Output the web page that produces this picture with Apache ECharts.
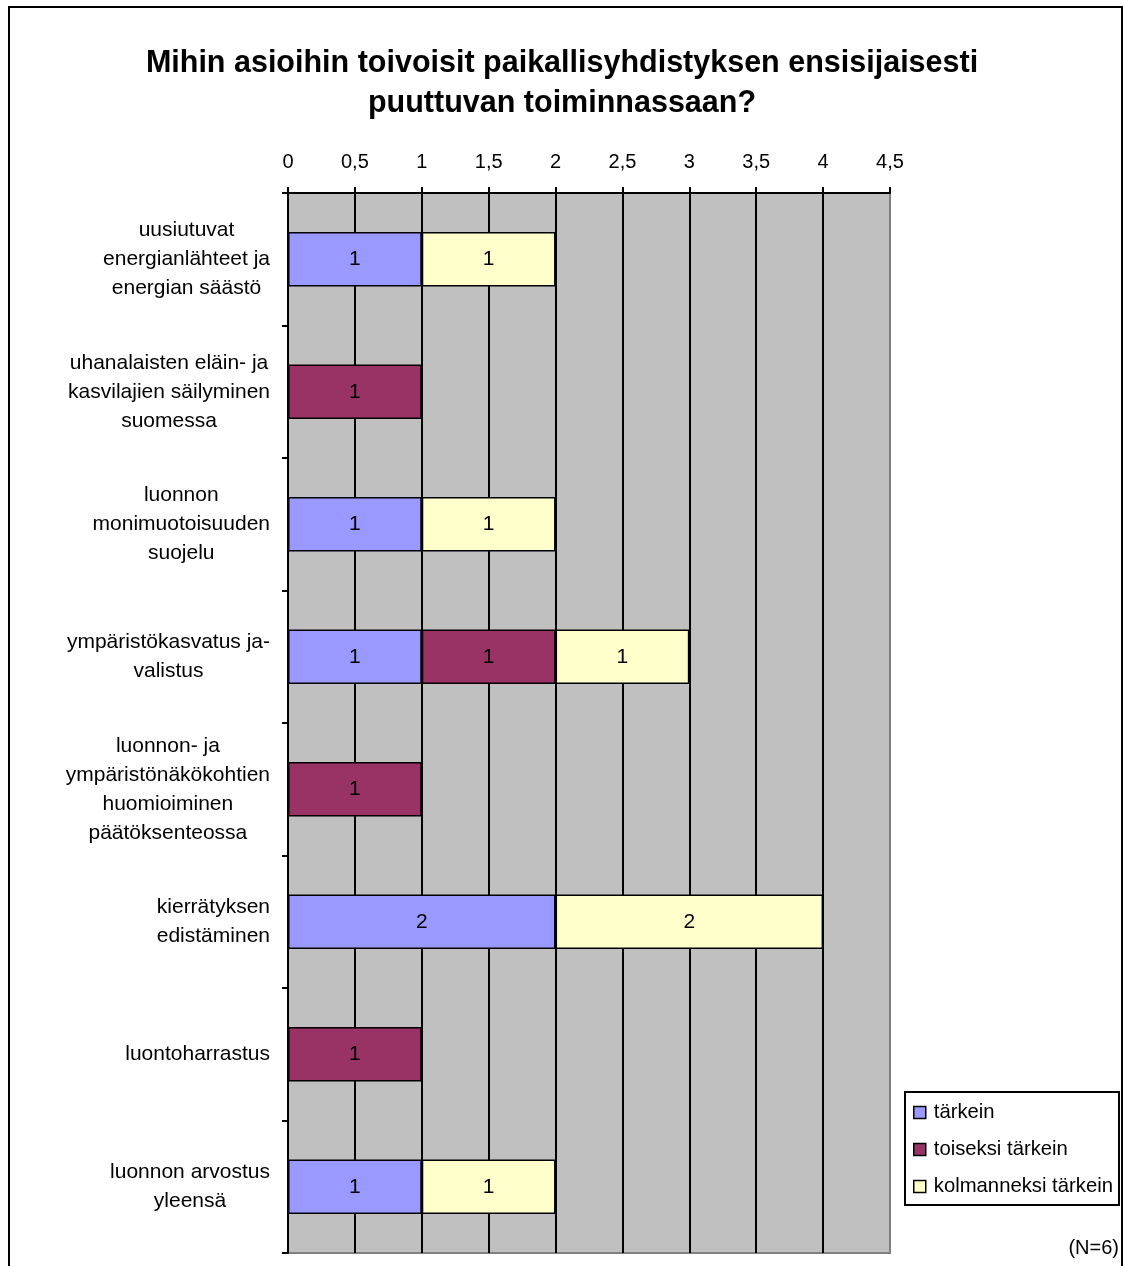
<!DOCTYPE html>
<html>
<head>
<meta charset="utf-8">
<style>
html,body{margin:0;padding:0;background:#fff;}
#chart{width:1124px;height:1266px;}
</style>
<script src="https://cdn.jsdelivr.net/npm/echarts@6/dist/echarts.min.js"></script>
</head>
<body>
<div id="chart"></div>
<script>
const titleText = 'Mihin asioihin toivoisit paikallisyhdistyksen ensisijaisesti\npuuttuvan toiminnassaan?';
const noteText = '(N=6)';
const categories = [
  'uusiutuvat\nenergianlähteet ja\nenergian säästö',
  'uhanalaisten eläin- ja\nkasvilajien säilyminen\nsuomessa',
  'luonnon\nmonimuotoisuuden\nsuojelu',
  'ympäristökasvatus ja-\nvalistus',
  'luonnon- ja\nympäristönäkökohtien\nhuomioiminen\npäätöksenteossa',
  'kierrätyksen\nedistäminen',
  'luontoharrastus',
  'luonnon arvostus\nyleensä'
];
const seriesNames = ['tärkein', 'toiseksi tärkein', 'kolmanneksi tärkein'];
const tarkein = [1, null, 1, 1, null, 2, null, 1];
const toiseksi = [null, 1, null, 1, 1, null, 1, null];
const kolmanneksi = [1, null, 1, 1, null, 2, null, 1];
const colors = ['#9999FF', '#993366', '#FFFFCC'];
const axisMin = 0, axisMax = 4.5, axisStep = 0.5;

const FONT = '"Liberation Sans", Arial, sans-serif';
const chart = echarts.init(document.getElementById('chart'));

function mkSeries(name, data, color) {
  return {
    name: name, type: 'bar', stack: 'all', data: data,
    barWidth: '41%',
    itemStyle: { color: color, borderColor: '#000', borderWidth: 1.5 },
    label: { show: true, position: 'inside', color: '#000', fontSize: 21, fontFamily: FONT,
      formatter: p => (p.value == null ? '' : String(p.value)) },
    emphasis: { disabled: true }
  };
}

chart.setOption({
  animation: false,
  backgroundColor: '#fff',
  textStyle: { fontFamily: FONT },
  title: [
    { text: titleText, left: 'center', top: 39,
      textStyle: { fontSize: 30.5, fontWeight: 'bold', color: '#000', lineHeight: 40, fontFamily: FONT } },
    { text: noteText, right: 5, bottom: 8, padding: 0,
      textStyle: { fontSize: 20, fontWeight: 'normal', color: '#000', fontFamily: FONT } }
  ],
  legend: {
    orient: 'vertical', left: 905, top: 1092,
    padding: [10, 6, 8, 8],
    itemGap: 16, itemWidth: 12, itemHeight: 12,
    borderColor: '#000', borderWidth: 2, backgroundColor: '#fff',
    icon: 'rect',
    itemStyle: { borderColor: '#000', borderWidth: 1.5 },
    textStyle: { fontSize: 20.3, color: '#000', lineHeight: 21, fontFamily: FONT, padding: [0, 0, 0, 3] },
    data: seriesNames
  },
  grid: {
    left: 288, right: 234, top: 193, bottom: 13,
    show: true, backgroundColor: '#C0C0C0', borderColor: '#808080', borderWidth: 2,
    containLabel: false
  },
  xAxis: {
    type: 'value', position: 'top', min: axisMin, max: axisMax, interval: axisStep,
    axisLine: { show: true, lineStyle: { color: '#000', width: 2 } },
    axisTick: { show: true, length: 6, lineStyle: { color: '#000', width: 2 } },
    axisLabel: { fontSize: 20, color: '#000', margin: 21, fontFamily: FONT,
      formatter: v => String(v).replace('.', ',') },
    splitLine: { show: true, showMinLine: false, showMaxLine: false, lineStyle: { color: '#000', width: 2 } }
  },
  yAxis: {
    type: 'category', inverse: true, data: categories,
    axisLine: { show: true, lineStyle: { color: '#000', width: 2 } },
    axisTick: { show: true, length: 6, lineStyle: { color: '#000', width: 2 } },
    axisLabel: {
      margin: 18, color: '#000', fontSize: 21, lineHeight: 29, fontFamily: FONT, align: 'right',
      formatter: v => v.split('\n').map(l => '{c|' + l + '}').join('\n'),
      rich: { c: { align: 'center', fontSize: 21, lineHeight: 29, color: '#000', fontFamily: FONT } }
    },
    splitLine: { show: false }
  },
  graphic: [
    { type: 'rect', z: 100, silent: true,
      shape: { x: 9, y: 7, width: 1113, height: 1320 },
      style: { fill: 'none', stroke: '#000', lineWidth: 2 } }
  ],
  series: [
    mkSeries(seriesNames[0], tarkein, colors[0]),
    mkSeries(seriesNames[1], toiseksi, colors[1]),
    mkSeries(seriesNames[2], kolmanneksi, colors[2])
  ]
});
</script>
</body>
</html>
